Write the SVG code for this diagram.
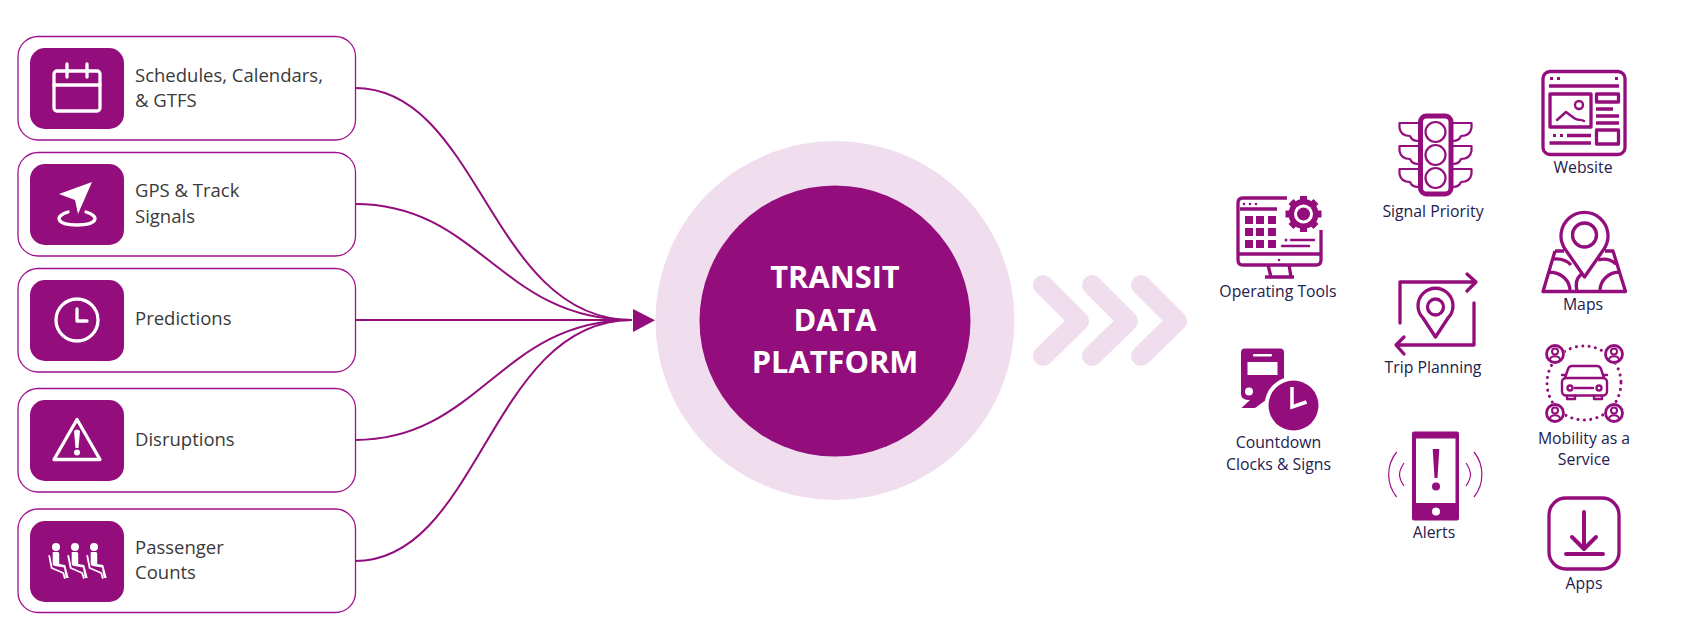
<svg xmlns="http://www.w3.org/2000/svg" width="1683" height="640" viewBox="0 0 1683 640">
<style>
.card{fill:#fff;stroke:#a0108f;stroke-width:1.3}
.sq{fill:#930d7c}
.lbl{font-family:"Open Sans","Noto Sans",sans-serif;font-size:18.5px;font-weight:500;fill:#3a3a3a}
.cap{font-family:"Open Sans","Noto Sans",sans-serif;font-size:15.8px;fill:#23204f;font-weight:500;text-anchor:middle}
.w{fill:none;stroke:#fff;stroke-width:3.300;stroke-linecap:round;stroke-linejoin:round}
.wf{fill:#fff}
.c{fill:none;stroke:#930d7c;stroke-width:2}
.i{fill:none;stroke:#930d7c;stroke-width:3.300;stroke-linejoin:round}
.t{fill:none;stroke:#930d7c;stroke-width:2.400;stroke-linejoin:round;stroke-linecap:round}
.f{fill:#930d7c}
.title{font-family:"Open Sans","Noto Sans",sans-serif;font-size:30.800px;font-weight:700;fill:#fff;text-anchor:middle}
</style>
<defs>
<g id="person"><circle r="8.500" class="i" style="stroke-width:2.800"/><circle cy="-2.500" r="3" class="t" style="stroke-width:2"/><path d="M-5 6c0-5 10-5 10 0" class="t" style="stroke-width:2"/></g>
<g id="seat"><circle cx="0" cy="-12" r="4" class="wf"/><path d="M-3.300-7h5q1.500 0 1.500 1.500V5l6 1 3.500 13h-3L8 8.500l-9-1.500q-2.300-.5-2.300-2z" class="wf"/><path d="M-6.700-3L-4.300 9l11.500 5 1.500 5" class="w" style="stroke-width:1.800"/></g>
</defs>
<g id="connectors">
<path class="c" d="M355 88C480 88 490 320 632 320"/>
<path class="c" d="M355 204C480 204 500 320 632 320"/>
<path class="c" d="M355 320H632"/>
<path class="c" d="M355 440C480 440 500 320 632 320"/>
<path class="c" d="M355 561C480 561 490 320 632 320"/>
<path class="f" d="M633 309L655 320.300L633 332z"/>
</g>
<g id="card-schedules">
<rect class="card" x="18" y="36.500" width="337.500" height="103.500" rx="20"/><rect class="sq" x="30" y="48" width="94" height="81" rx="15"/>
<rect class="w" x="54" y="71" width="46" height="40" rx="3"/><path class="w" d="M54 85H100M67 64V77M87 64V77"/>
<text class="lbl" x="135" y="81.500">Schedules, Calendars,</text><text class="lbl" x="135" y="107">&amp; GTFS</text>
</g>
<g id="card-gps">
<rect class="card" x="18" y="152.500" width="337.500" height="103.500" rx="20"/><rect class="sq" x="30" y="164" width="94" height="81" rx="15"/>
<path class="wf" d="M92 182L59 194L75 200L78 214z"/><path class="w" d="M68 212C54 216 56 225 77 225S100 216 86 212"/>
<text class="lbl" x="135" y="197">GPS &amp; Track</text><text class="lbl" x="135" y="222.500">Signals</text>
</g>
<g id="card-predictions">
<rect class="card" x="18" y="268.500" width="337.500" height="103.500" rx="20"/><rect class="sq" x="30" y="280" width="94" height="81" rx="15"/>
<circle class="w" cx="77" cy="320" r="21"/><path class="w" d="M77 309V321H87"/>
<text class="lbl" x="135" y="324.500">Predictions</text>
</g>
<g id="card-disruptions">
<rect class="card" x="18" y="388.500" width="337.500" height="103.500" rx="20"/><rect class="sq" x="30" y="400" width="94" height="81" rx="15"/>
<path class="w" d="M77 419.500L54 459.500H100z"/><path class="wf" d="M74 431Q77 428 80 431L78.500 448H75.500z"/><circle class="wf" cx="77" cy="452.500" r="3"/>
<text class="lbl" x="135" y="445.500">Disruptions</text>
</g>
<g id="card-passenger">
<rect class="card" x="18" y="509" width="337.500" height="103.500" rx="20"/><rect class="sq" x="30" y="521" width="94" height="81" rx="15"/>
<use href="#seat" x="56" y="559"/><use href="#seat" x="75" y="559"/><use href="#seat" x="94" y="559"/>
<text class="lbl" x="135" y="553.500">Passenger</text><text class="lbl" x="135" y="579">Counts</text>
</g>
<g id="hub">
<circle cx="835" cy="320.500" r="179.500" fill="#f0deef"/><circle cx="835" cy="321" r="135.500" fill="#930d7c"/>
<text class="title" x="835" y="288">TRANSIT</text><text class="title" x="835" y="331">DATA</text><text class="title" x="835" y="373">PLATFORM</text>
</g>
<g id="chevrons" fill="none" stroke="#f0deef" stroke-width="20" stroke-linecap="round" stroke-linejoin="round">
<path d="M1043 285L1079 321L1043 356"/><path d="M1092 285L1128 321L1092 356"/><path d="M1141 285L1177 321L1141 356"/>
</g>
<g id="operating-tools">
<path class="i" d="M1287 198H1243Q1238 198 1238 203V260Q1238 265 1243 265H1316Q1321 265 1321 260V230M1238 254H1321M1240 209H1277M1271 277L1268 265M1289 265L1291 277M1265 277H1294"/>
<g class="f"><rect x="1245" y="216" width="8" height="8"/><rect x="1256" y="216" width="8" height="8"/><rect x="1268" y="216" width="8" height="8"/><rect x="1245" y="228" width="8" height="8"/><rect x="1256" y="228" width="8" height="8"/><rect x="1268" y="228" width="8" height="8"/><rect x="1245" y="240" width="8" height="8"/><rect x="1256" y="240" width="8" height="8"/><rect x="1268" y="240" width="8" height="8"/><circle cx="1244" cy="204" r="1.300"/><circle cx="1250" cy="204" r="1.300"/><circle cx="1256" cy="204" r="1.300"/><circle cx="1279" cy="260" r="1.300"/><circle cx="1286" cy="240" r="1.500"/></g>
<path class="t" d="M1291 240H1314M1282 246H1309"/>
<path d="M1303.500 196V232M1285.500 214H1321.500M1291 201.500L1316 226.500M1316 201.500L1291 226.500" stroke="#930d7c" stroke-width="7"/><circle cx="1303.500" cy="214" r="15" class="f"/><circle cx="1303.500" cy="214" r="9.500" fill="#fff"/><circle cx="1303.500" cy="214" r="6.500" class="f"/>
<text class="cap" x="1278" y="297">Operating Tools</text>
</g>
<g id="countdown">
<path class="f" d="M1245 348.500H1280Q1284 348.500 1284 352.500V390H1270L1266 400L1255 408H1241.500L1250 400Q1241 400 1241 394V352.500Q1241 348.500 1245 348.500z"/>
<rect x="1253" y="354" width="19" height="2.500" rx="1" fill="#fff"/><rect x="1247.500" y="362" width="30" height="13" fill="#fff"/><circle class="wf" cx="1249" cy="391.500" r="4"/>
<circle fill="#fff" cx="1293.500" cy="405.500" r="29"/><circle class="f" cx="1293.500" cy="405.500" r="25"/><path d="M1292 387V407L1306.500 402" fill="none" stroke="#fff" stroke-width="3.500"/>
<text class="cap" x="1278.500" y="448">Countdown</text><text class="cap" x="1278.500" y="470">Clocks &amp; Signs</text>
</g>
<g id="signal-priority">
<rect class="i" x="1420.500" y="116" width="30.500" height="78" rx="6" style="stroke-width:5"/>
<g class="i" style="stroke-width:2.200"><circle cx="1435.500" cy="132" r="10"/><circle cx="1435.500" cy="155" r="10"/><circle cx="1435.500" cy="178" r="10"/>
<path d="M1418 123H1399.500V128Q1401 136 1410 136Q1412 141 1418 141M1418 146H1399.500V151Q1401 159 1410 159Q1412 164 1418 164M1418 169H1399.500V174Q1401 182 1410 182Q1412 187 1418 187M1453 123H1471.500V128Q1470 136 1461 136Q1459 141 1453 141M1453 146H1471.500V151Q1470 159 1461 159Q1459 164 1453 164M1453 169H1471.500V174Q1470 182 1461 182Q1459 187 1453 187"/></g>
<text class="cap" x="1433" y="217">Signal Priority</text>
</g>
<g id="trip-planning">
<path class="i" d="M1400 323V282H1474M1467 274L1476 282L1467 291M1474 303V345H1397M1404 337L1396 345L1404 354" stroke-linecap="round"/>
<path class="i" d="M1435.500 337L1423 318A17.500 17.500 0 1 1 1448 318z"/><circle class="i" cx="1435.500" cy="307" r="8"/>
<text class="cap" x="1433" y="373">Trip Planning</text>
</g>
<g id="alerts">
<rect class="f" x="1412" y="431.500" width="47" height="89" rx="2"/><rect x="1416" y="438.500" width="39.500" height="64.500" fill="#fff"/>
<path class="f" d="M1432.700 449H1439.300L1437.500 478H1434.500z"/><circle class="f" cx="1436" cy="486.500" r="4"/><circle class="wf" cx="1436" cy="511.500" r="4"/>
<path fill="none" stroke="#a0108f" stroke-width="1.200" d="M1396.700 452C1386 465 1386 484 1396.700 497M1404 463C1398 472 1398 477 1404 486M1474 452C1484.500 465 1484.500 484 1474 497M1466 463C1472 472 1472 477 1466 486"/>
<text class="cap" x="1434" y="538">Alerts</text>
</g>
<g id="website">
<rect class="i" x="1543" y="71.500" width="82" height="83" rx="7"/>
<path class="i" d="M1549 86H1619M1549.500 143H1591M1567 135.500H1591"/>
<rect class="i" x="1550" y="94" width="41" height="33"/><rect class="i" x="1596.500" y="94" width="22" height="8"/><rect class="i" x="1596.500" y="130" width="22" height="14"/>
<path class="i" d="M1596 109H1613M1596 116H1619M1596 123H1619"/>
<path class="t" d="M1557 120L1566 112L1574 118C1578 121 1581 119 1584 121"/><circle class="t" cx="1579" cy="105" r="4"/>
<path class="f" d="M1550 77h3v3h-3zM1557 77h3v3h-3zM1615 77h3v3h-3zM1553 134h3v3h-3zM1560 134h3v3h-3z"/>
<text class="cap" x="1583" y="173">Website</text>
</g>
<g id="maps">
<path class="i" d="M1555 251H1564M1605 251H1613L1625.500 291.500H1543L1555 251M1553 259Q1565 258 1571 265M1598 260Q1608 257 1616 264M1548 272C1562 272 1570 281 1570 291M1577 291C1575 282 1577 276 1584 273M1600 291C1600 281 1608 272 1620 272"/>
<path class="i" d="M1584.500 277L1565 249A23.500 23.500 0 1 1 1604 249z" style="fill:#fff"/><circle class="i" cx="1584.500" cy="235" r="12"/>
<text class="cap" x="1583" y="310">Maps</text>
</g>
<g id="maas">
<circle cx="1584" cy="383" r="37" fill="none" stroke="#930d7c" stroke-width="3" stroke-dasharray="0.100 6.300" stroke-linecap="round"/>
<circle cx="1555" cy="354" r="10" fill="#fff"/><circle cx="1614" cy="354" r="10" fill="#fff"/><circle cx="1555" cy="413" r="10" fill="#fff"/><circle cx="1614" cy="413" r="10" fill="#fff"/>
<use href="#person" x="1555" y="354"/><use href="#person" x="1614" y="354"/><use href="#person" x="1555" y="413"/><use href="#person" x="1614" y="413"/>
<path class="t" d="M1565 378L1568 369Q1569 366 1572 366H1597Q1600 366 1601 369L1604 378M1562 375H1566M1603 375H1607"/>
<rect class="t" x="1562" y="378" width="45" height="17.500" rx="4"/>
<path class="t" d="M1567 396V399H1575V396M1594 396V399H1602V396M1575 388H1593"/><circle class="t" cx="1570" cy="388" r="2.500"/><circle class="t" cx="1599" cy="388" r="2.500"/>
<text class="cap" x="1584" y="444">Mobility as a</text><text class="cap" x="1584" y="465">Service</text>
</g>
<g id="apps">
<rect class="i" x="1549" y="498" width="70" height="71" rx="17"/>
<path class="t" d="M1584 512V548M1572 537L1584 549L1596 537" style="stroke-width:4"/><path class="t" d="M1566 554H1603" style="stroke-width:4"/>
<text class="cap" x="1584" y="589">Apps</text>
</g>
</svg>
